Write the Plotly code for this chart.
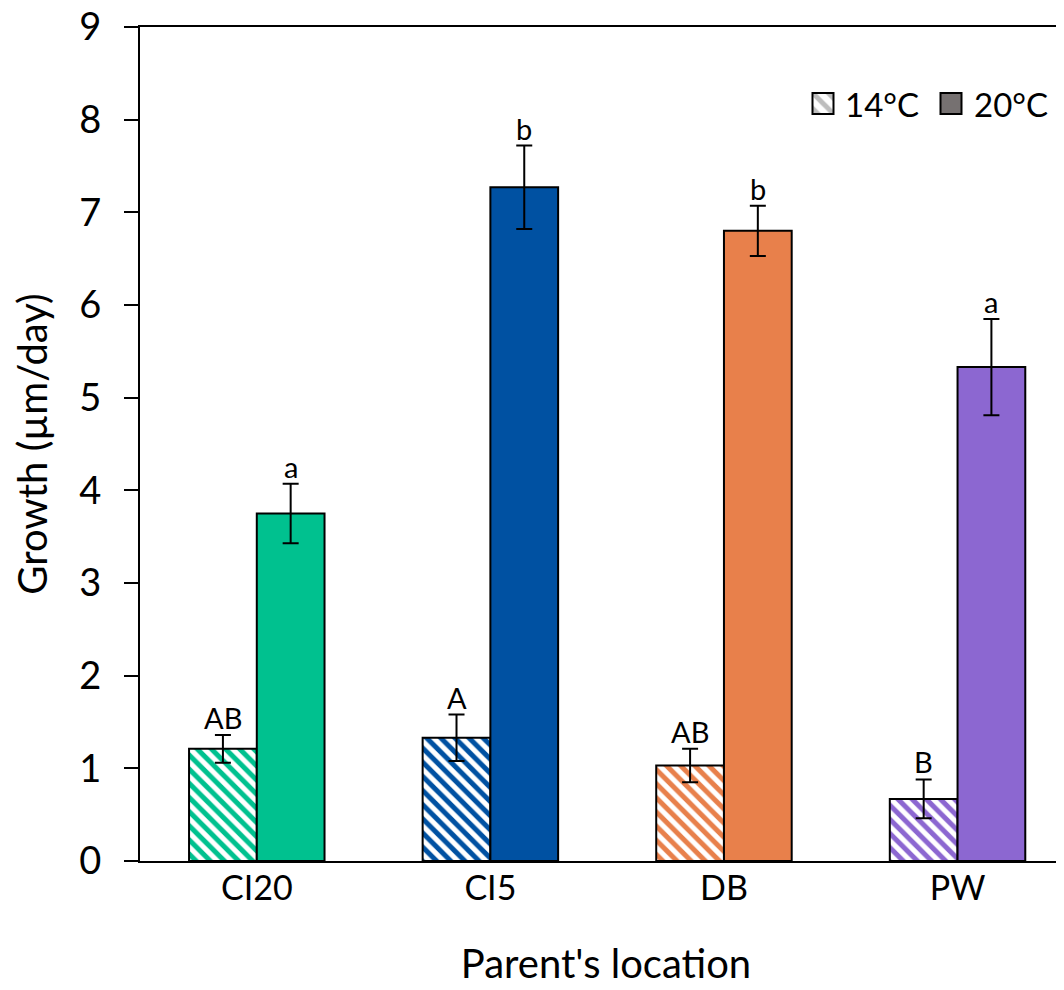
import plotly.graph_objects as go

categories = ["CI20", "CI5", "DB", "PW"]
colors = ["#00C18F", "#0051A2", "#E8804B", "#8C67D1"]
growth_14 = [1.21, 1.33, 1.03, 0.67]
err_14 = [0.15, 0.25, 0.18, 0.21]
growth_20 = [3.75, 7.27, 6.80, 5.33]
err_20 = [0.32, 0.45, 0.27, 0.52]
letters_14 = ["AB", "A", "AB", "B"]
letters_20 = ["a", "b", "b", "a"]
y_ticks = [0, 1, 2, 3, 4, 5, 6, 7, 8, 9]
legend_names = ["14°C", "20°C"]

FONT = "Lato"

fig = go.Figure()

fig.add_trace(go.Bar(
    x=categories, y=growth_14, name="14°C", showlegend=False,
    marker=dict(color="white", line=dict(color="black", width=2),
                pattern=dict(shape="\\", fgcolor=colors, bgcolor="white", size=10,
                             solidity=0.5, fillmode="replace", fgopacity=1)),
    error_y=dict(type="data", array=err_14, color="black", thickness=2, width=8),
))
fig.add_trace(go.Bar(
    x=categories, y=growth_20, name="20°C", showlegend=False,
    marker=dict(color=colors, line=dict(color="black", width=2)),
    error_y=dict(type="data", array=err_20, color="black", thickness=2, width=8),
))

# custom legend swatches on a pixel-mapped overlay axis
fig.add_trace(go.Bar(
    x=[823], y=[21], base=[93], width=[21], xaxis="x2", yaxis="y2", showlegend=False,
    marker=dict(color="white", line=dict(color="black", width=2),
                pattern=dict(shape="\\", fgcolor="#BDBDBD", bgcolor="white", size=11,
                             solidity=0.45, fillmode="replace")),
    hoverinfo="skip",
))
fig.add_trace(go.Bar(
    x=[951], y=[21], base=[93], width=[21], xaxis="x2", yaxis="y2", showlegend=False,
    marker=dict(color="#767171", line=dict(color="black", width=2)),
    hoverinfo="skip",
))
for xpos, name in zip([843, 972], legend_names):
    fig.add_annotation(x=xpos, y=104, xref="x2", yref="y2", text=name, showarrow=False,
                       xanchor="left", yanchor="middle",
                       font=dict(family=FONT, size=33, color="black"))

# significance letters
for i, c in enumerate(categories):
    fig.add_annotation(x=i - 0.145, y=growth_14[i] + err_14[i], text=letters_14[i],
                       showarrow=False, yanchor="bottom", yshift=-2,
                       font=dict(family=FONT, size=29, color="black"))
    fig.add_annotation(x=i + 0.145, y=growth_20[i] + err_20[i], text=letters_20[i],
                       showarrow=False, yanchor="bottom", yshift=-2,
                       font=dict(family=FONT, size=29, color="black"))

fig.update_layout(
    width=1064, height=990,
    margin=dict(l=132, r=0, t=19, b=137),
    plot_bgcolor="white", paper_bgcolor="white",
    barmode="group", bargap=0.42, bargroupgap=0,
    font=dict(family=FONT, size=34, color="black"),
    showlegend=False,
    xaxis=dict(
        range=[-0.5, 3.49], showline=True, linecolor="black", linewidth=2,
        mirror=True, ticks="", tickfont=dict(size=34), automargin=False,
        ticklabelstandoff=-4,
        title=dict(text="Parent's location", font=dict(size=40), standoff=44),
    ),
    yaxis=dict(
        range=[0, 9], tickvals=y_ticks, showline=True, linecolor="black", linewidth=2,
        ticks="outside", ticklen=14, tickwidth=2, tickcolor="black", showgrid=False,
        zeroline=False, tickfont=dict(size=38), automargin=False,
        ticklabelstandoff=15, ticklabeloverflow="allow",
        title=dict(text="Growth (µm/day)", font=dict(size=40), standoff=28),
    ),
    xaxis2=dict(overlaying="x", visible=False, range=[140, 1072]),
    yaxis2=dict(overlaying="y", visible=False, range=[861, 27]),
)

fig.write_html("out.html")
